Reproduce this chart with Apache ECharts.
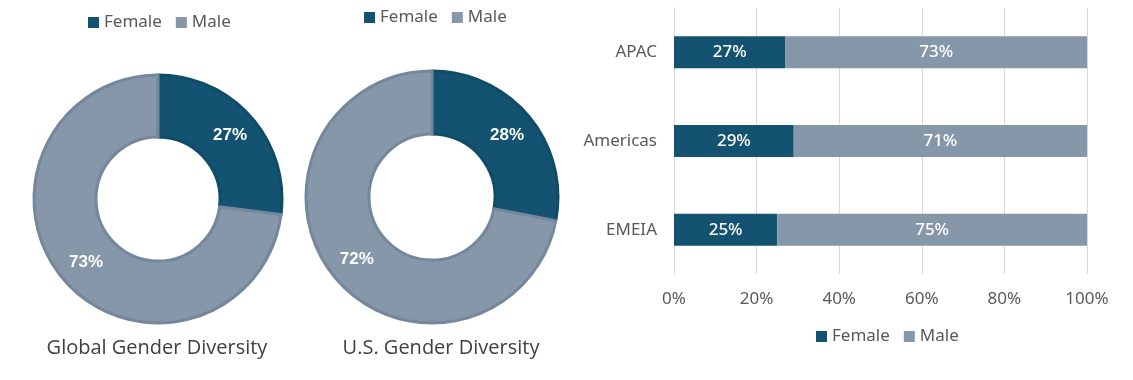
<!DOCTYPE html>
<html><head><meta charset="utf-8">
<script src="https://cdn.jsdelivr.net/npm/echarts@6/dist/echarts.min.js"></script>
<style>html,body{margin:0;padding:0;background:#fff}#c{width:1133px;height:380px}</style>
</head><body><div id="c"></div>
<script>
var seriesNames = ['Female', 'Male'];
var globalValues = [27, 73];
var usValues = [28, 72];
var regions = ['EMEIA', 'Americas', 'APAC'];
var regionFemale = [25, 29, 27];
var regionMale = [75, 71, 73];
var pieTitles = ['Global Gender Diversity', 'U.S. Gender Diversity'];

var FEMALE = '#135270', MALE = '#8597A8';
var FEMALE_B = '#104b68', MALE_B = '#74879b';
var txt = '#595959';

function pieData(vals) {
  return vals.map(function (v, i) {
    return { name: seriesNames[i], value: v,
      itemStyle: { color: i === 0 ? FEMALE : MALE, borderColor: i === 0 ? FEMALE_B : MALE_B, borderWidth: 3 } };
  });
}
function pieSeries(vals, cx, cy, r0, r1) {
  return {
    type: 'pie', center: [cx, cy], radius: [r0, r1], startAngle: 90, clockwise: true,
    data: pieData(vals), silent: true,
    label: { show: true, position: 'inside', formatter: '{c}%', color: '#fff', fontSize: 17, fontWeight: 'bold', fontFamily: 'Liberation Sans, Arial, sans-serif' },
    labelLine: { show: false }
  };
}
var legendBase = { icon: 'rect', itemWidth: 11, itemHeight: 11, itemGap: 14, padding: 0, data: seriesNames,
  textStyle: { color: txt, fontSize: 17, fontFamily: 'Noto Sans, sans-serif' } };

var chart = echarts.init(document.getElementById('c'));
chart.setOption({
  animation: false,
  title: [
    { text: pieTitles[0], left: 152, top: 333, textAlign: 'center', textStyle: { fontSize: 20, fontWeight: 'normal', color: '#404040', fontFamily: 'Open Sans, sans-serif' } },
    { text: pieTitles[1], left: 436, top: 333, textAlign: 'center', textStyle: { fontSize: 20, fontWeight: 'normal', color: '#404040', fontFamily: 'Open Sans, sans-serif' } }
  ],
  legend: [
    Object.assign({}, legendBase, { left: 88, top: 14 }),
    Object.assign({}, legendBase, { left: 364, top: 9 }),
    Object.assign({}, legendBase, { left: 816, top: 328 })
  ],
  grid: { left: 674, right: 46, top: 8, bottom: 106 },
  xAxis: { type: 'value', min: 0, max: 100, interval: 20,
    axisLabel: { formatter: '{value}%', color: txt, fontSize: 17, margin: 17, fontFamily: 'Noto Sans, sans-serif' },
    splitLine: { lineStyle: { color: '#d9d9d9' } }, axisLine: { show: false }, axisTick: { show: false } },
  yAxis: { type: 'category', data: regions,
    axisLabel: { color: txt, fontSize: 17, margin: 17, fontFamily: 'Noto Sans, sans-serif' },
    axisLine: { show: true, lineStyle: { color: '#d9d9d9' } }, axisTick: { show: false } },
  series: [
    pieSeries(globalValues, 158, 199, 62, 124),
    pieSeries(usValues, 432, 197, 63, 126),
    { name: 'Female', type: 'bar', stack: 's', data: regionFemale, barWidth: 32,
      itemStyle: { color: FEMALE },
      label: { show: true, position: 'inside', formatter: '{c}%', color: '#fff', fontSize: 17, fontWeight: 500, fontFamily: 'Noto Sans, sans-serif' } },
    { name: 'Male', type: 'bar', stack: 's', data: regionMale, barWidth: 32,
      itemStyle: { color: MALE },
      label: { show: true, position: 'inside', formatter: '{c}%', color: '#fff', fontSize: 17, fontWeight: 500, fontFamily: 'Noto Sans, sans-serif' } }
  ]
});
</script></body></html>
